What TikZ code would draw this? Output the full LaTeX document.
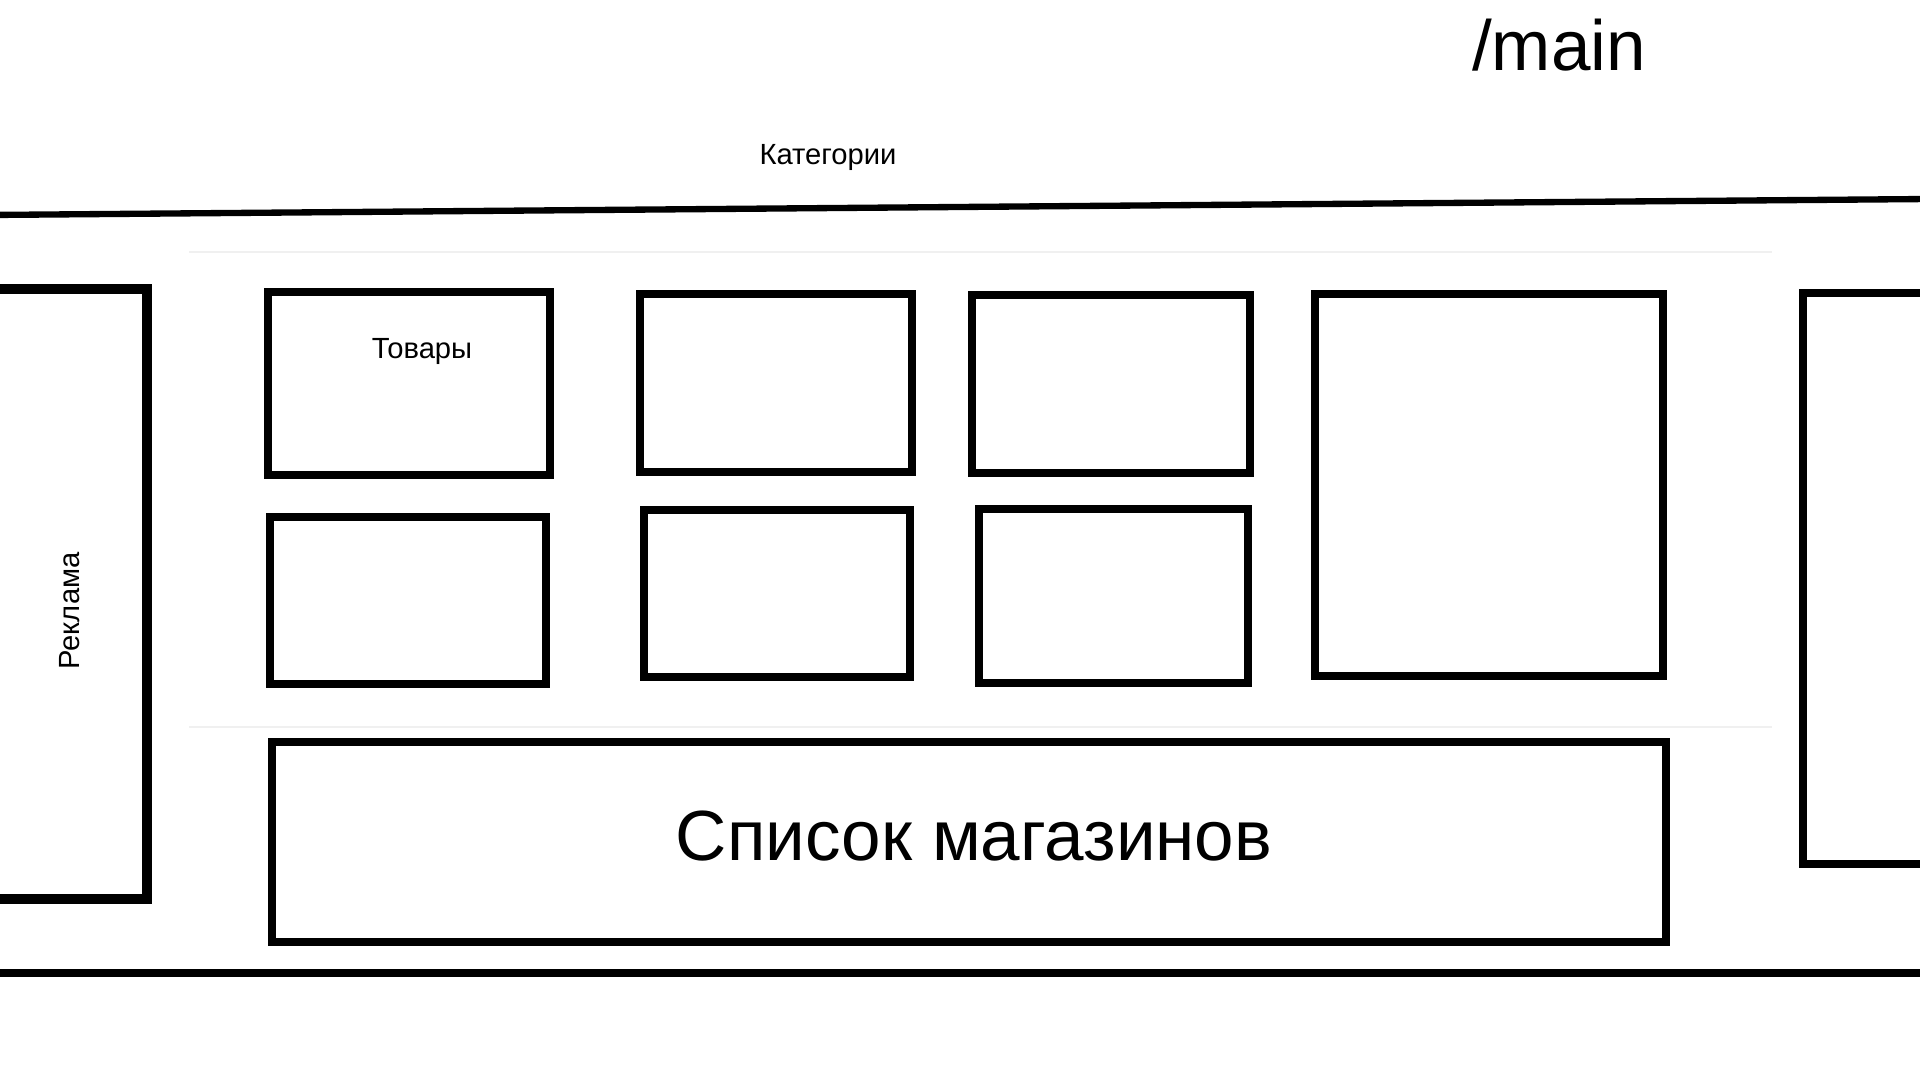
\documentclass[tikz,border=0pt]{standalone}
\usepackage{fontspec}
\setmainfont{Liberation Sans}
\tikzset{
  frame/.style={draw=black, line width=2.28pt},
  rule/.style={draw=black, line width=1.8pt},
  faint/.style={draw=black!6, line width=0.4pt},
  small/.style={font=\fontsize{8.3}{10}\selectfont, inner sep=0pt},
  big/.style={font=\fontsize{20.2}{24}\selectfont, inner sep=0pt}
}
\begin{document}
\begin{tikzpicture}[x=0.01cm, y=-0.01cm]
\useasboundingbox (0,0) rectangle (1920,1080);
\fill[white] (0,0) rectangle (1920,1080);
% title
\node[big, anchor=base] (title) at (1559,71) {/main};
% categories bar
\node[small, anchor=base] (cat) at (828,165) {Категории};
\draw[rule] (-10,215) -- (1930,199);
\draw[rule, line width=2pt] (-10,973) -- (1930,973);
% faint guide lines
\draw[faint] (189,252) -- (1772,252);
\draw[faint] (189,727) -- (1772,727);
% advertising side boxes
\draw[frame, line width=2.7pt] (-20,289) rectangle (147,899);
\node[small, anchor=base, rotate=90] (ads) at (80,611) {Реклама};
\draw[frame] (1940,293) rectangle (1803,864);
% product boxes
\draw[frame] (268,292) rectangle (550,475);
\node[small, anchor=base] (goods) at (422,359) {Товары};
\draw[frame] (640,294) rectangle (912,472);
\draw[frame] (972,295) rectangle (1250,473);
\draw[frame] (1315,294) rectangle (1663,676);
\draw[frame] (270,517) rectangle (546,684);
\draw[frame] (644,510) rectangle (910,677);
\draw[frame] (979,509) rectangle (1248,683);
% shop list
\draw[frame] (272,742) rectangle (1666,942);
\node[big, anchor=base] (shops) at (974,861) {Список магазинов};
\end{tikzpicture}
\end{document}
